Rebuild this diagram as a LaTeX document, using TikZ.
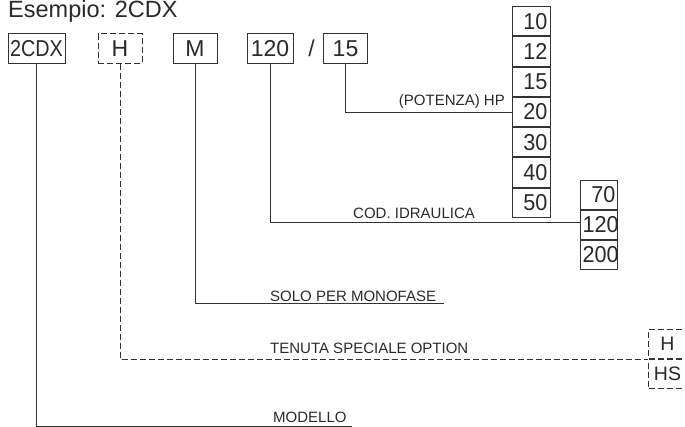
\documentclass[tikz,border=0pt]{standalone}
\usepackage{fontspec}
\setmainfont{Liberation Sans}
\newfontfamily\condfont[FakeStretch=0.86]{Liberation Sans}
\newfontfamily\digfont[FakeStretch=0.94]{Liberation Sans}
\definecolor{linec}{HTML}{333333}
\definecolor{txtc}{HTML}{2A2A2A}
\newcommand{\bxfont}{\fontsize{23}{23}\selectfont}
\newcommand{\smbxfont}{\fontsize{19.5}{19.5}\selectfont}
\newcommand{\labfont}{\fontsize{15}{15}\selectfont}
\tikzset{
  bx/.style={draw=linec, line width=1pt, inner xsep=0pt, inner ysep=0pt, minimum height=29.3pt, font=\bxfont, text=txtc},
  dbx/.style={bx, dash pattern=on 6pt off 3pt},
  colbx/.style={bx, font=\digfont\bxfont, inner xsep=3pt, text width=32pt, align=right, minimum height=29.3pt},
  colbxb/.style={bx, font=\digfont\bxfont, inner xsep=2pt, text width=33pt, align=right, minimum height=29pt},
  hbx/.style={dbx, font=\smbxfont, minimum width=38pt, minimum height=29pt},
  conn/.style={draw=linec, line width=1pt},
  dconn/.style={conn, dash pattern=on 6pt off 3pt},
  lab/.style={font=\labfont, text=txtc, inner sep=0pt, anchor=base west},
}
\begin{document}
\begin{tikzpicture}[x=1pt,y=-1pt]
\useasboundingbox (0,0) rectangle (685,427);
\clip (0,0) rectangle (685,427);
% title
\node[font=\fontsize{23.5}{23.5}\selectfont, text=txtc, inner sep=0pt, anchor=base west] (title) at (8,17.8) {Esempio: 2CDX};
% top row
\node[bx, minimum width=57pt, font=\condfont\bxfont] (b2cdx) at (36.5,48.5) {2CDX};
\node[dbx, minimum width=44pt] (bH) at (120,48.5) {H};
\node[bx, minimum width=44pt] (bM) at (195,48.5) {M};
\node[bx, minimum width=46pt] (b120) at (270,48.5) {120};
\node[font=\bxfont, text=txtc, inner sep=0pt] (slash) at (311.5,48.5) {/};
\node[bx, minimum width=44pt] (b15) at (345.5,48.5) {15};
% power column
\node[colbx, anchor=north west] (c10) at (512,6) {10};
\node[colbx, anchor=north] (c12) at (c10.south) {12};
\node[colbx, anchor=north] (c15) at (c12.south) {15};
\node[colbx, anchor=north] (c20) at (c15.south) {20};
\node[colbx, anchor=north] (c30) at (c20.south) {30};
\node[colbx, anchor=north] (c40) at (c30.south) {40};
\node[colbx, anchor=north] (c50) at (c40.south) {50};
% hydraulic column
\node[colbxb, anchor=north west] (d70) at (580,180) {70};
\node[colbxb, anchor=north] (d120) at (d70.south) {120};
\node[colbxb, anchor=north] (d200) at (d120.south) {200};
% seal boxes
\node[hbx, anchor=north west] (eH) at (648,329) {H};
\node[hbx, anchor=north] (eHS) at (eH.south) {HS};
% end points
\coordinate (endM) at (444,304);
\coordinate (endMod) at (352,426);
% connectors
\draw[conn] (b15.south) |- (c20.west);
\draw[conn] (b120.south) |- ([yshift=2.5pt]d120.west);
\draw[conn] (bM.south) |- (endM);
\draw[dconn] (bH.south) |- (eH.south west);
\draw[conn] (b2cdx.south) |- (endMod);
% labels
\node[lab, anchor=base east] (lpow) at (505,106) {(POTENZA) HP};
\node[lab] (lcod) at (353,219) {COD. IDRAULICA};
\node[lab] (lsolo) at (270,302) {SOLO PER MONOFASE};
\node[lab] (lten) at (270,354) {TENUTA SPECIALE OPTION};
\node[lab] (lmod) at (273,422) {MODELLO};
\end{tikzpicture}
\end{document}
